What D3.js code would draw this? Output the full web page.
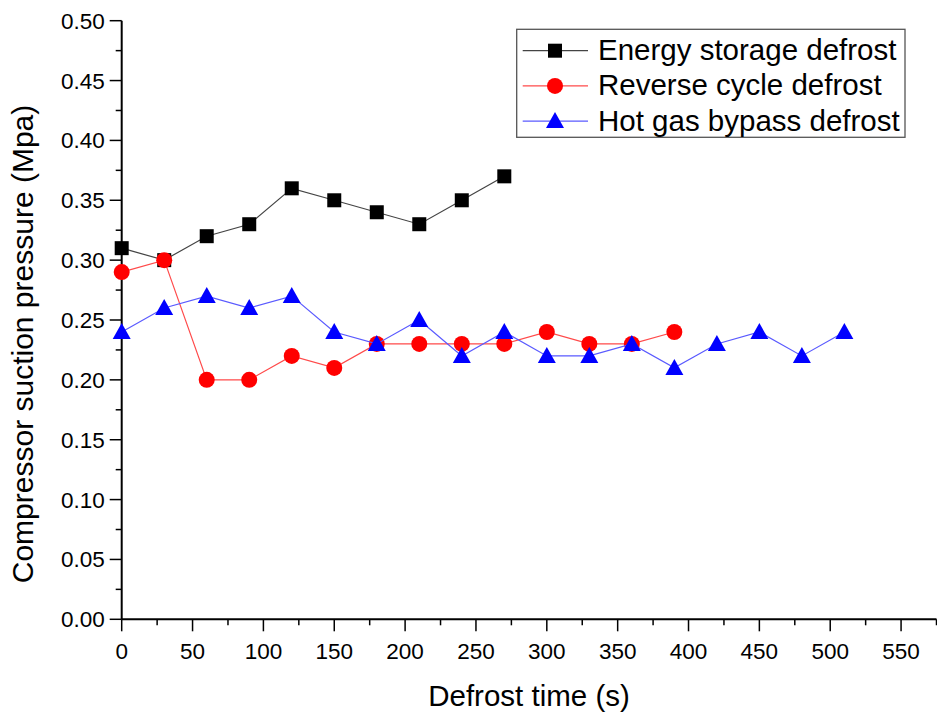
<!DOCTYPE html>
<html><head><meta charset="utf-8">
<script src="https://cdn.jsdelivr.net/npm/d3@7"></script>
<style>body{margin:0;background:#fff}svg{display:block}text{font-family:"Liberation Sans",Arial,sans-serif}</style>
</head><body><svg id="c" width="937" height="718"></svg>
<script>
const energyX = [0,30,60,90,120,150,180,210,240,270];
const energyY = [0.31,0.30,0.32,0.33,0.36,0.35,0.34,0.33,0.35,0.37];
const reverseX = [0,30,60,90,120,150,180,210,240,270,300,330,360,390];
const reverseY = [0.29,0.30,0.20,0.20,0.22,0.21,0.23,0.23,0.23,0.23,0.24,0.23,0.23,0.24];
const hotgasX = [0,30,60,90,120,150,180,210,240,270,300,330,360,390,420,450,480,510];
const hotgasY = [0.24,0.26,0.27,0.26,0.27,0.24,0.23,0.25,0.22,0.24,0.22,0.22,0.23,0.21,0.23,0.24,0.22,0.24];
const seriesNames = ["Energy storage defrost","Reverse cycle defrost","Hot gas bypass defrost"];
const xTicks = [0,50,100,150,200,250,300,350,400,450,500,550];
const yTicks = [0,0.05,0.10,0.15,0.20,0.25,0.30,0.35,0.40,0.45,0.50];

const svg = d3.select("#c");
const x = d3.scaleLinear().domain([0,575]).range([121.7,936.5]);
const y = d3.scaleLinear().domain([0,0.5]).range([619.3,20.7]);

const series = [
  {name:seriesNames[0], xs:energyX, ys:energyY, line:"#444", fill:"#000", sym:"square"},
  {name:seriesNames[1], xs:reverseX, ys:reverseY, line:"#ff4a4a", fill:"#ff0000", sym:"circle"},
  {name:seriesNames[2], xs:hotgasX, ys:hotgasY, line:"#5a5aff", fill:"#0000ff", sym:"triangle"}
];
function marker(g, sym, fill){
  if(sym==="square") return g.append("rect").attr("x",-7).attr("y",-7).attr("width",14).attr("height",14).attr("fill",fill);
  if(sym==="circle") return g.append("circle").attr("r",8).attr("fill",fill);
  return g.append("path").attr("d","M0,-9L9,7L-9,7Z").attr("fill",fill);
}

// axes
const xAxis = svg.append("g").attr("transform",`translate(0,${y(0)})`);
xAxis.append("line").attr("x1",x(0)).attr("x2",936.5).attr("stroke","#000").attr("stroke-width",2);
d3.range(0,576,25).forEach(v=>{
  const major = v%50===0;
  xAxis.append("line").attr("x1",x(v)).attr("x2",x(v)).attr("y1",0).attr("y2",major?12:6).attr("stroke","#000").attr("stroke-width",1.5);
});
xAxis.selectAll("text.t").data(xTicks).enter().append("text").attr("class","t")
  .attr("x",d=>x(d)).attr("y",40).attr("text-anchor","middle").attr("font-size",22.5).text(d=>d);

const yAxis = svg.append("g").attr("transform",`translate(${x(0)},0)`);
yAxis.append("line").attr("y1",y(0)).attr("y2",y(0.5)).attr("stroke","#000").attr("stroke-width",2);
d3.range(0,21).forEach(i=>{
  const v=i*0.025, major=i%2===0;
  yAxis.append("line").attr("x1",0).attr("x2",major?-12:-6).attr("y1",y(v)).attr("y2",y(v)).attr("stroke","#000").attr("stroke-width",1.5);
});
yAxis.selectAll("text.t").data(yTicks).enter().append("text").attr("class","t")
  .attr("x",-17).attr("y",d=>y(d)+8).attr("text-anchor","end").attr("font-size",22.5).text(d=>d3.format(".2f")(d));

svg.append("text").attr("x",529).attr("y",706).attr("text-anchor","middle").attr("font-size",29.5).text("Defrost time (s)");
svg.append("text").attr("transform",`translate(33,344) rotate(-90)`).attr("text-anchor","middle").attr("font-size",30).text("Compressor suction pressure (Mpa)");

// series
const line = d3.line().x(d=>x(d[0])).y(d=>y(d[1]));
series.forEach(s=>{
  const pts = s.xs.map((v,i)=>[v,s.ys[i]]);
  const g = svg.append("g");
  g.append("path").datum(pts).attr("d",line).attr("fill","none").attr("stroke",s.line).attr("stroke-width",1.2);
  pts.forEach(p=>{
    const m = g.append("g").attr("transform",`translate(${x(p[0])},${y(p[1])})`);
    marker(m,s.sym,s.fill);
  });
});

// legend
const lg = svg.append("g");
lg.append("rect").attr("x",516.7).attr("y",29.3).attr("width",388.3).attr("height",108).attr("fill","#fff").attr("stroke","#555").attr("stroke-width",1.3);
series.forEach((s,i)=>{
  const cy = 50.7 + i*35.2;
  lg.append("line").attr("x1",522.7).attr("x2",588).attr("y1",cy).attr("y2",cy).attr("stroke",s.line).attr("stroke-width",1.2);
  const m = lg.append("g").attr("transform",`translate(555,${cy})`);
  marker(m,s.sym,s.fill);
  lg.append("text").attr("x",598).attr("y",cy+9.5).attr("font-size",29.5).text(s.name);
});
</script></body></html>
